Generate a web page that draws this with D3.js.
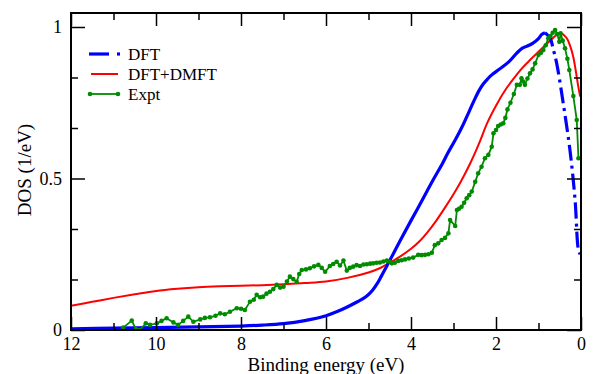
<!DOCTYPE html>
<html>
<head>
<meta charset="utf-8">
<script src="https://cdn.jsdelivr.net/npm/d3@7"></script>
<style>
  html, body { margin: 0; padding: 0; background: #fff; }
  svg { display: block; }
</style>
</head>
<body>
<svg id="chart" width="601" height="374"></svg>
<script>
// ---- data ----
const seriesNames = ["DFT", "DFT+DMFT", "Expt"];
const xTickLabels = [12, 10, 8, 6, 4, 2, 0];
const yTickLabels = [0, 0.5, 1];

const dftE = [12, 11, 10, 9, 8, 7.5, 7, 6.5, 6, 5.75, 5.5, 5.25, 5.1, 5.0, 4.9, 4.8, 4.7, 4.6, 4.5, 4.25, 4, 3.75, 3.5, 3.25, 3.13, 2.96, 2.8, 2.61, 2.5, 2.4, 2.3, 2.2, 2.1, 1.906, 1.7, 1.51, 1.38, 1.28, 1.13, 1.0, 0.925, 0.847, 0.73, 0.65, 0.572, 0.42, 0.26, 0.14, 0.06, 0.02];
const dftV = [0.004, 0.006, 0.008, 0.010, 0.013, 0.016, 0.021, 0.031, 0.047, 0.06, 0.076, 0.094, 0.106, 0.117, 0.132, 0.152, 0.177, 0.203, 0.229, 0.296, 0.361, 0.425, 0.49, 0.552, 0.585, 0.627, 0.67, 0.728, 0.762, 0.79, 0.812, 0.828, 0.842, 0.862, 0.885, 0.914, 0.93, 0.936, 0.947, 0.962, 0.975, 0.981, 0.964, 0.925, 0.88, 0.75, 0.594, 0.43, 0.264, 0.25];

const dmftE = [12, 11.5, 11, 10.5, 10, 9.5, 9, 8.5, 8, 7.5, 7, 6.5, 6, 5.5, 5.0, 4.75, 4.5, 4.25, 4.0, 3.8, 3.6, 3.4, 3.2, 3.0, 2.8, 2.6, 2.4, 2.2, 2.0, 1.8, 1.6, 1.4, 1.2, 1.0, 0.8, 0.65, 0.49, 0.337, 0.25, 0.18, 0.063, 0.02];
const dmftV = [0.08, 0.093, 0.106, 0.118, 0.129, 0.136, 0.141, 0.144, 0.146, 0.148, 0.151, 0.155, 0.16, 0.172, 0.19, 0.203, 0.222, 0.243, 0.268, 0.293, 0.325, 0.362, 0.404, 0.448, 0.497, 0.552, 0.615, 0.685, 0.74, 0.788, 0.827, 0.862, 0.891, 0.918, 0.945, 0.965, 0.979, 0.963, 0.935, 0.9, 0.803, 0.77];

const exptE = [10.77, 10.57, 10.47, 10.38, 10.24, 10.14, 9.98, 9.87, 9.75, 9.59, 9.48, 9.36, 9.24, 9.12, 8.96, 8.85, 8.73, 8.6, 8.49, 8.38, 8.26, 8.10, 8.0, 7.91, 7.79, 7.70, 7.63, 7.55, 7.48, 7.40, 7.32, 7.24, 7.16, 7.08, 7.0, 6.92, 6.85, 6.77, 6.69, 6.63, 6.57, 6.47, 6.38, 6.28, 6.18, 6.10, 6.02, 5.91, 5.83, 5.75, 5.67, 5.59, 5.51, 5.44, 5.36, 5.28, 5.2, 5.12, 5.04, 4.96, 4.89, 4.81, 4.73, 4.65, 4.57, 4.51, 4.45, 4.38, 4.30, 4.22, 4.14, 4.05, 3.95, 3.83, 3.75, 3.67, 3.59, 3.51, 3.44, 3.36, 3.28, 3.20, 3.12, 3.08, 2.96, 2.92, 2.87, 2.81, 2.75, 2.69, 2.63, 2.57, 2.49, 2.42, 2.34, 2.26, 2.18, 2.10, 2.06, 2.0, 1.95, 1.89, 1.83, 1.78, 1.73, 1.66, 1.58, 1.51, 1.44, 1.40, 1.36, 1.32, 1.26, 1.20, 1.14, 1.08, 1.00, 0.94, 0.886, 0.83, 0.77, 0.72, 0.666, 0.61, 0.56, 0.51, 0.48, 0.43, 0.376, 0.32, 0.275, 0.18, 0.10, 0.06];
const exptV = [0.008, 0.031, 0.002, 0.0, 0.022, 0.017, 0.022, 0.03, 0.039, 0.025, 0.017, 0.03, 0.044, 0.027, 0.035, 0.04, 0.042, 0.047, 0.055, 0.052, 0.06, 0.072, 0.07, 0.066, 0.093, 0.1, 0.116, 0.108, 0.11, 0.12, 0.126, 0.135, 0.149, 0.14, 0.143, 0.16, 0.176, 0.168, 0.159, 0.185, 0.198, 0.2, 0.204, 0.21, 0.215, 0.205, 0.192, 0.211, 0.218, 0.225, 0.213, 0.229, 0.196, 0.205, 0.209, 0.214, 0.211, 0.216, 0.217, 0.219, 0.22, 0.222, 0.223, 0.226, 0.229, 0.226, 0.22, 0.222, 0.228, 0.23, 0.233, 0.236, 0.239, 0.248, 0.247, 0.248, 0.25, 0.255, 0.28, 0.286, 0.297, 0.304, 0.319, 0.363, 0.343, 0.396, 0.4, 0.407, 0.42, 0.435, 0.445, 0.457, 0.489, 0.517, 0.539, 0.567, 0.578, 0.605, 0.649, 0.66, 0.673, 0.678, 0.682, 0.7, 0.728, 0.75, 0.779, 0.809, 0.809, 0.831, 0.82, 0.809, 0.83, 0.847, 0.86, 0.88, 0.908, 0.915, 0.924, 0.94, 0.963, 0.97, 0.981, 0.99, 0.977, 0.951, 0.979, 0.955, 0.93, 0.895, 0.858, 0.772, 0.693, 0.567];

// ---- layout ----
const svg = d3.select("#chart");
const L = 71, R = 581, T = 13, B = 330;
const x = d3.scaleLinear().domain([12, 0]).range([L, R]);
const y = d3.scaleLinear().domain([0, 1.0462]).range([B, T]);
const font = "'Liberation Serif', serif";

const zip = (E, V) => E.map((e, i) => ({ e, v: V[i] }));
const dft = zip(dftE, dftV), dmft = zip(dmftE, dmftV), expt = zip(exptE, exptV);

const clipId = "plotclip";
svg.append("defs").append("clipPath").attr("id", clipId)
  .append("rect").attr("x", L).attr("y", T).attr("width", R - L).attr("height", B - T);

const plot = svg.append("g").attr("clip-path", `url(#${clipId})`);
const smooth = d3.line().x(d => x(d.e)).y(d => y(d.v)).curve(d3.curveCatmullRom.alpha(0.5));
const straight = d3.line().x(d => x(d.e)).y(d => y(d.v));

// DFT+DMFT red
plot.append("path").datum(dmft).attr("d", smooth)
  .attr("fill", "none").attr("stroke", "#ff0000").attr("stroke-width", 2);

// DFT blue: solid up to the peak, dash-dot on the steep fall
const peakIdx = dftV.indexOf(d3.max(dftV));
plot.append("path").datum(dft.slice(0, peakIdx + 1)).attr("d", smooth)
  .attr("fill", "none").attr("stroke", "#0000ff").attr("stroke-width", 3.2);
plot.append("path").datum(dft.slice(peakIdx)).attr("d", smooth)
  .attr("fill", "none").attr("stroke", "#0000ff").attr("stroke-width", 3.2)
  .attr("stroke-dasharray", "16,5,3,5");

// Expt green
plot.append("path").datum(expt).attr("d", straight)
  .attr("fill", "none").attr("stroke", "#008b00").attr("stroke-width", 1.8);
plot.selectAll("circle.expt").data(expt).enter().append("circle")
  .attr("class", "expt").attr("cx", d => x(d.e)).attr("cy", d => y(d.v)).attr("r", 2.3)
  .attr("fill", "#008b00");

// ---- axes (inward ticks on all four sides) ----
const xMajor = xTickLabels;
const xMinor = d3.range(0, 13).filter(v => v % 2 === 1);
const yMajor = yTickLabels;
const yMinor = [1/6, 2/6, 4/6, 5/6];

function styleAxis(g) {
  g.attr("font-family", null).attr("font-size", null);
  g.select(".domain").remove();
  g.selectAll("line").attr("stroke", "#000").attr("stroke-width", 1.5);
  g.selectAll("text").style("font-family", font).style("font-size", "18px").attr("fill", "#000");
}

svg.append("g").attr("transform", `translate(0,${B})`)
  .call(d3.axisBottom(x).tickValues(xMajor).tickSize(-13).tickPadding(7).tickFormat(d3.format("d")))
  .call(styleAxis);
svg.append("g").attr("transform", `translate(0,${B})`)
  .call(d3.axisBottom(x).tickValues(xMinor).tickSize(-7).tickFormat(""))
  .call(styleAxis);
svg.append("g").attr("transform", `translate(0,${T})`)
  .call(d3.axisTop(x).tickValues(xMajor).tickSize(-13).tickFormat(""))
  .call(styleAxis);
svg.append("g").attr("transform", `translate(0,${T})`)
  .call(d3.axisTop(x).tickValues(xMinor).tickSize(-7).tickFormat(""))
  .call(styleAxis);

svg.append("g").attr("transform", `translate(${L},0)`)
  .call(d3.axisLeft(y).tickValues(yMajor).tickSize(-14).tickPadding(9).tickFormat(d => d === 0 ? "0" : d === 1 ? "1" : "0.5"))
  .call(styleAxis);
svg.append("g").attr("transform", `translate(${L},0)`)
  .call(d3.axisLeft(y).tickValues(yMinor).tickSize(-7).tickFormat(""))
  .call(styleAxis);
svg.append("g").attr("transform", `translate(${R},0)`)
  .call(d3.axisRight(y).tickValues(yMajor).tickSize(-14).tickFormat(""))
  .call(styleAxis);
svg.append("g").attr("transform", `translate(${R},0)`)
  .call(d3.axisRight(y).tickValues(yMinor).tickSize(-7).tickFormat(""))
  .call(styleAxis);

// frame
svg.append("rect").attr("x", L).attr("y", T).attr("width", R - L).attr("height", B - T)
  .attr("fill", "none").attr("stroke", "#000").attr("stroke-width", 2);

// axis titles
svg.append("text").attr("x", (L + R) / 2).attr("y", 371).attr("text-anchor", "middle")
  .style("font-family", font).style("font-size", "19px").attr("fill", "#000").text("Binding energy (eV)");
svg.append("text").attr("transform", `translate(31,${170}) rotate(-90)`).attr("text-anchor", "middle")
  .style("font-family", font).style("font-size", "19px").attr("fill", "#000").text("DOS (1/eV)");

// ---- legend ----
const legend = svg.append("g");
const rows = [
  { name: seriesNames[0], color: "#0000ff", y: 54 },
  { name: seriesNames[1], color: "#ff0000", y: 74 },
  { name: seriesNames[2], color: "#008b00", y: 94 }
];
legend.append("line").attr("x1", 89).attr("x2", 109).attr("y1", rows[0].y).attr("y2", rows[0].y)
  .attr("stroke", rows[0].color).attr("stroke-width", 3.2);
legend.append("line").attr("x1", 117).attr("x2", 120).attr("y1", rows[0].y).attr("y2", rows[0].y)
  .attr("stroke", rows[0].color).attr("stroke-width", 3.2);
legend.append("line").attr("x1", 91).attr("x2", 118).attr("y1", rows[1].y).attr("y2", rows[1].y)
  .attr("stroke", rows[1].color).attr("stroke-width", 2);
legend.append("line").attr("x1", 90).attr("x2", 118).attr("y1", rows[2].y).attr("y2", rows[2].y)
  .attr("stroke", rows[2].color).attr("stroke-width", 1.8);
[90, 118].forEach(cx => legend.append("circle").attr("cx", cx).attr("cy", rows[2].y).attr("r", 2.3).attr("fill", rows[2].color));
legend.selectAll("text.lg").data(rows).enter().append("text").attr("class", "lg")
  .attr("x", 128).attr("y", d => d.y + 6).style("font-family", font).style("font-size", "17px")
  .attr("fill", "#000").text(d => d.name);
</script>
</body>
</html>
